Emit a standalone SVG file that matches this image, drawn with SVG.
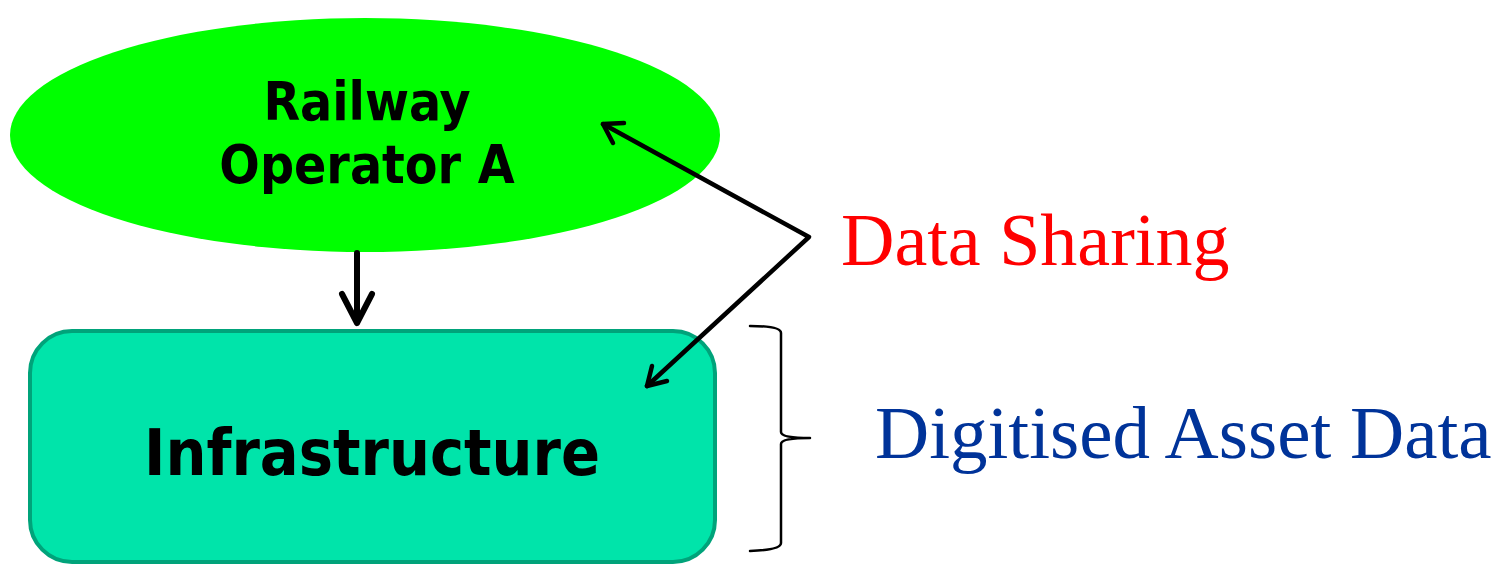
<svg xmlns="http://www.w3.org/2000/svg" width="1502" height="565" viewBox="0 0 1502 565">
<style>
.lbl{font-family:"DejaVu Sans Condensed","DejaVu Sans",sans-serif;font-weight:bold;fill:#000;text-anchor:middle}
.side{font-family:"Liberation Serif","Times New Roman",serif}
.conn{fill:none;stroke:#000;stroke-linecap:round;stroke-linejoin:round}
</style>
<rect width="1502" height="565" fill="#fff"/>
<g id="node-operator">
<ellipse cx="365" cy="135" rx="355" ry="117" fill="#00FF00"/>
<text class="lbl" x="367" y="120" font-size="53">Railway</text>
<text class="lbl" x="367" y="183" font-size="53">Operator A</text>
</g>
<g id="node-infrastructure">
<rect x="30" y="331" width="685" height="231" rx="42" ry="42" fill="#00E4AA" stroke="#00A37A" stroke-width="4"/>
<text class="lbl" x="372" y="475" font-size="64">Infrastructure</text>
</g>
<g id="label-data-sharing">
<text class="side" x="841" y="265" font-size="74" fill="#FF0000">Data Sharing</text>
</g>
<g id="label-digitised">
<text class="side" x="875" y="458" font-size="75" fill="#003399">Digitised Asset Data</text>
</g>
<g id="connectors">
<path class="conn" stroke-width="6" d="M357,253 L357,322"/>
<path class="conn" stroke-width="6" d="M342,294 L357,323 L372,294"/>
<path class="conn" stroke-width="4.5" d="M603,124 L809,237 L647,386"/>
<path class="conn" stroke-width="4.5" d="M624,123 L603,124 L613,143"/>
<path class="conn" stroke-width="4.5" d="M652,366 L647,386 L667,381"/>
<path class="conn" stroke-width="2.5" d="M750,326 Q781,326 781,333 L781,432 Q781,438 810,438 Q781,438 781,444 L781,543 Q781,550 750,551"/>
</g>
</svg>
